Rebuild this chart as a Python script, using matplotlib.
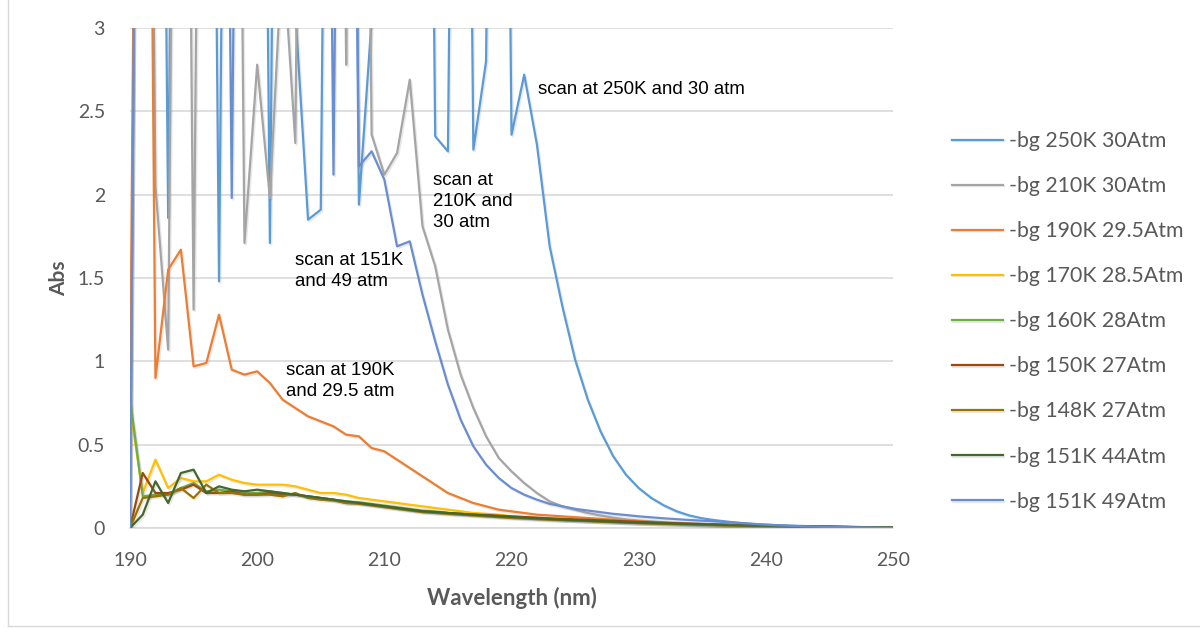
import matplotlib
matplotlib.use("Agg")
import matplotlib.pyplot as plt
import matplotlib.patheffects as pe
import numpy as np

# wavelength axis, 1 nm steps
wavelength = np.arange(190, 251)

# values of 10 stand for saturated readings (off the top of the chart)
abs_250K_30 = [0, 10, 10, 1.86, 10, 10, 10, 1.48, 10, 10,
               10, 1.71, 10, 3.1, 1.85, 1.91, 10, 10, 1.94, 3.05,
               10, 10, 10, 10, 2.35, 2.26, 10, 2.27, 2.80, 10,
               2.36, 2.72, 2.30, 1.69, 1.33, 1.01, 0.77, 0.58, 0.43, 0.32,
               0.24, 0.18, 0.135, 0.10, 0.075, 0.058, 0.047, 0.038, 0.030, 0.024,
               0.020, 0.017, 0.014, 0.012, 0.010, 0.008, 0.007, 0.005, 0.004, 0.003,
               0.002]
abs_210K_30 = [0, 10, 2.05, 1.07, 10, 1.31, 10, 10, 10, 1.71,
               2.78, 1.98, 3.5, 2.31, 10, 10, 10, 2.78, 10, 2.36,
               2.12, 2.25, 2.69, 1.81, 1.57, 1.19, 0.92, 0.72, 0.55, 0.42,
               0.34, 0.27, 0.21, 0.16, 0.13, 0.11, 0.09, 0.075, 0.062, 0.052,
               0.045, 0.040, 0.035, 0.031, 0.028, 0.025, 0.022, 0.020, 0.018, 0.016,
               0.014, 0.012, 0.011, 0.010, 0.009, 0.008, 0.006, 0.005, 0.004, 0.003,
               0.002]
abs_190K_295 = [0.70, 10, 0.90, 1.55, 1.67, 0.97, 0.99, 1.28, 0.95, 0.92,
                0.94, 0.87, 0.77, 0.72, 0.67, 0.64, 0.61, 0.56, 0.55, 0.48,
                0.46, 0.41, 0.36, 0.31, 0.26, 0.21, 0.18, 0.15, 0.13, 0.11,
                0.10, 0.09, 0.08, 0.075, 0.07, 0.065, 0.06, 0.055, 0.05, 0.045,
                0.04, 0.036, 0.032, 0.028, 0.025, 0.022, 0.019, 0.016, 0.014, 0.012,
                0.010, 0.009, 0.008, 0.007, 0.006, 0.005, 0.004, 0.003, 0.003, 0.002,
                0.002]
abs_170K_285 = [0.72, 0.21, 0.41, 0.24, 0.30, 0.28, 0.28, 0.32, 0.29, 0.27,
                0.26, 0.26, 0.26, 0.25, 0.23, 0.21, 0.21, 0.20, 0.18, 0.17,
                0.16, 0.15, 0.14, 0.13, 0.12, 0.11, 0.10, 0.09, 0.085, 0.08,
                0.07, 0.065, 0.06, 0.055, 0.05, 0.047, 0.044, 0.04, 0.037, 0.034,
                0.031, 0.028, 0.026, 0.024, 0.022, 0.02, 0.018, 0.016, 0.014, 0.012,
                0.011, 0.01, 0.009, 0.008, 0.007, 0.006, 0.005, 0.004, 0.003, 0.002,
                0.002]
abs_160K_28 = [0.78, 0.19, 0.20, 0.20, 0.24, 0.27, 0.22, 0.23, 0.22, 0.21,
               0.21, 0.22, 0.21, 0.20, 0.19, 0.18, 0.17, 0.16, 0.155, 0.145,
               0.135, 0.125, 0.115, 0.105, 0.10, 0.09, 0.085, 0.08, 0.075, 0.07,
               0.065, 0.06, 0.056, 0.052, 0.048, 0.045, 0.042, 0.039, 0.036, 0.033,
               0.03, 0.028, 0.026, 0.024, 0.022, 0.02, 0.018, 0.016, 0.015, 0.013,
               0.012, 0.011, 0.01, 0.009, 0.008, 0.007, 0.006, 0.005, 0.004, 0.004,
               0.003]
abs_150K_27 = [0, 0.33, 0.21, 0.21, 0.23, 0.26, 0.21, 0.21, 0.22, 0.20,
               0.20, 0.21, 0.20, 0.20, 0.19, 0.18, 0.17, 0.15, 0.15, 0.14,
               0.13, 0.12, 0.11, 0.10, 0.095, 0.09, 0.085, 0.08, 0.078, 0.074,
               0.07, 0.066, 0.062, 0.058, 0.055, 0.052, 0.049, 0.046, 0.043, 0.04,
               0.037, 0.034, 0.031, 0.028, 0.026, 0.024, 0.022, 0.02, 0.018, 0.016,
               0.014, 0.012, 0.011, 0.01, 0.009, 0.008, 0.007, 0.006, 0.005, 0.004,
               0.003]
abs_148K_27 = [0, 0.18, 0.19, 0.20, 0.24, 0.18, 0.26, 0.21, 0.21, 0.20,
               0.20, 0.20, 0.19, 0.21, 0.18, 0.17, 0.165, 0.15, 0.145, 0.135,
               0.125, 0.115, 0.105, 0.095, 0.09, 0.085, 0.08, 0.075, 0.07, 0.065,
               0.06, 0.057, 0.053, 0.05, 0.047, 0.044, 0.041, 0.038, 0.035, 0.032,
               0.029, 0.027, 0.025, 0.023, 0.021, 0.019, 0.017, 0.015, 0.014, 0.012,
               0.011, 0.01, 0.009, 0.008, 0.007, 0.006, 0.005, 0.004, 0.003, 0.003,
               0.002]
abs_151K_44 = [0, 0.08, 0.28, 0.15, 0.33, 0.35, 0.21, 0.25, 0.23, 0.22,
               0.23, 0.22, 0.21, 0.20, 0.19, 0.18, 0.17, 0.16, 0.15, 0.14,
               0.13, 0.12, 0.11, 0.10, 0.095, 0.09, 0.085, 0.08, 0.075, 0.07,
               0.066, 0.062, 0.058, 0.054, 0.05, 0.047, 0.044, 0.041, 0.038, 0.035,
               0.032, 0.03, 0.028, 0.026, 0.024, 0.022, 0.02, 0.018, 0.016, 0.014,
               0.013, 0.012, 0.011, 0.01, 0.009, 0.008, 0.007, 0.006, 0.005, 0.004,
               0.004]
abs_151K_49 = [0, 10, 10, 10, 10, 10, 10, 10, 1.98, 10,
               10, 10, 10, 10, 10, 10, 2.12, 10, 2.17, 2.26,
               2.09, 1.69, 1.72, 1.40, 1.12, 0.86, 0.65, 0.49, 0.38, 0.30,
               0.24, 0.20, 0.17, 0.145, 0.13, 0.115, 0.105, 0.095, 0.085, 0.078,
               0.07, 0.064, 0.058, 0.053, 0.048, 0.044, 0.040, 0.035, 0.030, 0.025,
               0.020, 0.016, 0.013, 0.010, 0.008, 0.006, 0.005, 0.004, 0.003, 0.002,
               0.001]

series = [abs_250K_30, abs_210K_30, abs_190K_295, abs_170K_285, abs_160K_28,
          abs_150K_27, abs_148K_27, abs_151K_44, abs_151K_49]
labels = ["-bg 250K 30Atm", "-bg 210K 30Atm", "-bg 190K 29.5Atm", "-bg 170K 28.5Atm",
          "-bg 160K 28Atm", "-bg 150K 27Atm", "-bg 148K 27Atm", "-bg 151K 44Atm",
          "-bg 151K 49Atm"]
colors = ["#5B9BD5", "#A5A5A5", "#ED7D31", "#FFC000", "#70AD47",
          "#9E480E", "#997300", "#43682B", "#698ED0"]

notes = ["scan at 250K and 30 atm", "scan at\n210K and\n30 atm",
         "scan at 151K\nand 49 atm", "scan at 190K\nand 29.5 atm"]
note_x = [222.1, 213.8, 203.0, 202.3]
note_y = [2.63, 1.96, 1.54, 0.88]

txt = "#595959"
plt.rcParams['font.family'] = ['Lato', 'DejaVu Sans']

fig = plt.figure(figsize=(12, 6.35), dpi=100)
ax = fig.add_axes([130 / 1200, 1 - 528 / 635, 763 / 1200, 500 / 635])

shadow = [pe.SimpleLineShadow(offset=(1, -1.2), shadow_color='#808080', alpha=0.18), pe.Normal()]
for i, (vals, lab, col) in enumerate(zip(series, labels, colors)):
    ax.plot(wavelength, vals, color=col, lw=1.6, label=lab, zorder=2 + i,
            path_effects=shadow)

for t, x, y in zip(notes, note_x, note_y):
    ax.text(x, y, t, ha='left', va='center', fontsize=13.4, color='black',
            family=['Liberation Sans', 'DejaVu Sans'], linespacing=1.3, zorder=20)

ax.set_xlim(190, 250)
ax.set_ylim(0, 3)
ax.set_xticks(np.arange(190, 251, 10))
ax.set_yticks([0, 0.5, 1, 1.5, 2, 2.5, 3])
ax.set_yticklabels(["0", "0.5", "1", "1.5", "2", "2.5", "3"])
ax.tick_params(length=0, labelsize=14, colors=txt)
ax.tick_params(axis='x', pad=17)
ax.tick_params(axis='y', pad=18)
ax.grid(axis='y', color='#D9D9D9', lw=1.2)
ax.set_axisbelow(True)
for s in ['top', 'right', 'left']:
    ax.spines[s].set_visible(False)
ax.spines['bottom'].set_color('#D9D9D9')
ax.spines['bottom'].set_linewidth(1.2)

ax.set_xlabel("Wavelength (nm)", fontsize=16, fontweight='bold', color=txt, labelpad=13)
ax.set_ylabel("Abs", fontsize=15, fontweight='bold', color=txt, labelpad=6)

leg = fig.legend(loc='upper left', bbox_to_anchor=(952 / 1200, 1 - 131 / 635),
                 frameon=False, fontsize=15.3, handlelength=2.4, handletextpad=0.28,
                 labelspacing=1.18, borderpad=0, borderaxespad=0)
for t in leg.get_texts():
    t.set_color(txt)

# thin chart-area border on the left and bottom
fig.add_artist(plt.Line2D([8 / 1200, 8 / 1200], [1 - 626 / 635, 1], color='#D9D9D9',
                          lw=1, transform=fig.transFigure))
fig.add_artist(plt.Line2D([8 / 1200, 1], [1 - 626 / 635, 1 - 626 / 635], color='#D9D9D9',
                          lw=1, transform=fig.transFigure))

fig.savefig("out.png", dpi=100)
